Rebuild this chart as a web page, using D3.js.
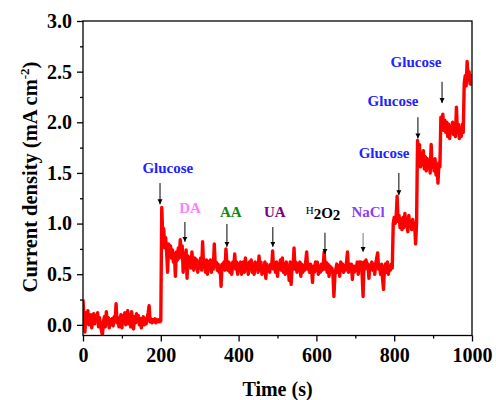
<!DOCTYPE html>
<html><head><meta charset="utf-8">
<script src="https://cdn.jsdelivr.net/npm/d3@7/dist/d3.min.js"></script>
<style>
body{margin:0;background:#fff}
svg text{font-family:"Liberation Serif","Times New Roman",serif;font-weight:bold}
</style>
</head><body><svg id="c" width="496" height="400"></svg>
<script>
// ---- data, one sample every 2.5 s from t = 0 s ----
const sampleInterval = 2.5;
const current = [0.25,
0.05,-0.07,0.12,0.02, 0.14,0.00,0.08,0.10, -0.03,0.06,0.11,0.01, 0.09,0.04,0.12,-0.02, 0.07,0.00,-0.06,-0.10,
0.03,0.08,-0.02,0.13, 0.02,0.07,-0.03,0.05, 0.00,0.06,-0.01,0.08, 0.03,0.21,0.02,0.07, -0.02,0.05,0.10,-0.03,
0.09,0.02,0.12,0.00, 0.08,0.14,0.01,0.10, -0.02,0.13,0.04,-0.04, 0.08,0.02,0.11,0.03, 0.09,0.00,0.06,-0.03,
0.05,0.08,0.00,0.06, 0.01,0.07,0.12,0.19, 0.03,0.06,0.02,0.05, 0.03,0.06,0.02,0.05, 0.03,0.05,0.03,0.04,
1.16,0.88,0.95,0.76, 0.86,0.72,0.52,0.80, 0.70,0.78,0.66,0.74, 0.62,0.70,0.48,0.72, 0.64,0.76,0.66,0.84,
0.70,0.78,0.52,0.70, 0.62,0.74,0.46,0.68, 0.58,0.66,0.56,0.72, 0.60,0.54,0.66,0.58, 0.64,0.52,0.62,0.56,
0.66,0.54,0.82,0.58, 0.62,0.52,0.64,0.50, 0.62,0.56,0.64,0.52, 0.60,0.55,0.80,0.58, 0.62,0.54,0.60,0.52,
0.58,0.38,0.60,0.55, 0.62,0.54,0.75,0.60, 0.54,0.62,0.52,0.60, 0.50,0.62,0.56,0.70, 0.55,0.62,0.50,0.60,
0.54,0.62,0.50,0.58, 0.62,0.52,0.66,0.56, 0.60,0.50,0.62,0.55, 0.64,0.52,0.60,0.50, 0.62,0.56,0.60,0.52,
0.68,0.54,0.62,0.50, 0.58,0.52,0.62,0.46, 0.60,0.54,0.58,0.52, 0.60,0.56,0.73,0.55, 0.60,0.52,0.62,0.48,
0.60,0.55,0.64,0.54, 0.66,0.52,0.60,0.50, 0.62,0.55,0.58,0.44, 0.62,0.40,0.58,0.56, 0.76,0.55,0.62,0.52,
0.60,0.54,0.62,0.48, 0.60,0.52,0.58,0.54, 0.62,0.72,0.55,0.60, 0.52,0.60,0.56,0.42, 0.58,0.52,0.62,0.54,
0.62,0.50,0.58,0.52, 0.60,0.54,0.58,0.72, 0.55,0.62,0.52,0.60, 0.48,0.58,0.52,0.56, 0.50,0.28,0.48,0.55,
0.60,0.52,0.58,0.48, 0.62,0.54,0.60,0.52, 0.58,0.54,0.62,0.72, 0.52,0.60,0.54,0.60, 0.45,0.58,0.52,0.58,
0.54,0.62,0.50,0.62, 0.58,0.62,0.50,0.28, 0.62,0.55,0.64,0.58, 0.60,0.46,0.58,0.56, 0.62,0.54,0.60,0.50,
0.60,0.66,0.71,0.55, 0.58,0.50,0.60,0.46, 0.35,0.56,0.60,0.52, 0.62,0.50,0.58,0.54, 0.60,0.56,1.00,1.06,
1.00,1.06,1.27,1.02, 1.08,0.96,1.04,0.94, 1.06,0.96,1.10,0.98, 1.04,0.92,1.08,0.98, 1.02,0.94,1.04,0.98,
1.00,0.80,1.00,1.82, 1.70,1.78,1.56,1.68, 1.58,1.72,1.54,1.66, 1.52,1.64,1.55,1.62, 1.50,1.78,1.56,1.62,
1.52,1.64,1.48,1.58, 1.40,1.60,1.56,2.05, 1.96,2.08,1.92,2.02, 1.90,2.00,1.86,1.98, 1.84,1.96,1.90,2.00,
1.88,1.96,1.86,2.15, 1.90,1.98,1.84,1.94, 1.86,1.98,1.90,2.38, 2.46,2.36,2.60,2.42, 2.50,2.38,2.46,2.36];
const time = current.map((d,i)=>i*sampleInterval);
const xTicks = [0,200,400,600,800,1000];
const yTicks = [0.0,0.5,1.0,1.5,2.0,2.5,3.0];
const xMinor = [100,300,500,700,900];
const yMinor = [0.25,0.75,1.25,1.75,2.25,2.75];
const labels = ["Glucose","DA","AA","UA","H2O2","NaCl","Glucose","Glucose","Glucose"];
const labelColors = ["#2222ff","#ff80ff","#108a10","#800080","#000000","#8a3cff","#2222ff","#2222ff","#2222ff"];
const labelT = [218,275,380,493,617,733,774,797,856];
const labelV = [1.50,1.105,1.065,1.065,1.065,1.065,1.648,2.16,2.546];
const arrowT = [198,262,370,488,622,720,812,861,923];
const arrowTop = [1.40,1.016,0.996,0.966,0.91,0.907,1.50,2.05,2.40];
const arrowBot = [1.19,0.82,0.77,0.77,0.70,0.72,1.28,1.84,2.19];

// ---- chart ----
const svg = d3.select("#c");
const x = d3.scaleLinear().domain([0,1000]).range([83,472]);
const y = d3.scaleLinear().domain([-0.105,3.0]).range([335.5,21]);

const defs = svg.append("defs");
defs.append("clipPath").attr("id","clip")
  .append("rect").attr("x",83).attr("y",21).attr("width",389).attr("height",314.5);
const mk = defs.append("marker").attr("id","ah")
  .attr("viewBox","0 0 10 10").attr("refX",10).attr("refY",5)
  .attr("markerWidth",5).attr("markerHeight",6).attr("markerUnits","userSpaceOnUse")
  .attr("orient","auto");
mk.append("path").attr("d","M0,0L10,5L0,10Z").attr("fill","#000");

const line = d3.line().x((d,i)=>x(time[i])).y(d=>y(d));
svg.append("path").datum(current).attr("clip-path","url(#clip)")
  .attr("d",line).attr("fill","none").attr("stroke","#ff0000")
  .attr("stroke-width",3.4).attr("stroke-linejoin","round");

// axes
const fs = 20;
const gx = svg.append("g").attr("transform","translate(0,335.5)")
  .call(d3.axisBottom(x).tickValues(xTicks).tickSize(6).tickPadding(6).tickSizeOuter(0).tickFormat(d3.format("d")));
const gxm = svg.append("g").attr("transform","translate(0,335.5)")
  .call(d3.axisBottom(x).tickValues(xMinor).tickSize(3).tickFormat(""));
const gy = svg.append("g").attr("transform","translate(83,0)")
  .call(d3.axisLeft(y).tickValues(yTicks).tickSize(6).tickPadding(5).tickSizeOuter(0).tickFormat(d3.format(".1f")));
const gym = svg.append("g").attr("transform","translate(83,0)")
  .call(d3.axisLeft(y).tickValues(yMinor).tickSize(3).tickFormat(""));
[gx,gxm,gy,gym].forEach(g=>{
  g.selectAll("path").remove();
  g.selectAll("line").attr("stroke","#000").attr("stroke-width",1.3);
  g.selectAll("text").attr("fill","#000").style("font-size",fs+"px")
   .style("font-family","'Liberation Serif',serif").style("font-weight","bold");
});
svg.append("rect").attr("x",83).attr("y",21).attr("width",389).attr("height",314.5)
  .attr("fill","none").attr("stroke","#000").attr("stroke-width",1.3);

// titles
svg.append("text").attr("x",x(500)).attr("y",396).attr("text-anchor","middle")
  .style("font-size","20px").text("Time (s)");
const yt = svg.append("text").attr("transform","translate(37,177) rotate(-90)")
  .attr("text-anchor","middle").style("font-size","20.5px");
yt.append("tspan").text("Current density (mA cm");
yt.append("tspan").attr("dy",-8).style("font-size","13px").text("-2");
yt.append("tspan").attr("dy",8).text(")");

// annotations
labels.forEach((lab,i)=>{
  const t = svg.append("text").attr("x",x(labelT[i])).attr("y",y(labelV[i]))
    .attr("text-anchor","middle").attr("fill",labelColors[i]).style("font-size","15px");
  if(lab==="H2O2"){
    t.append("tspan").style("font-size","11px").style("font-weight","normal").attr("dy",-3).text("H");
    t.append("tspan").style("font-size","15px").attr("dy",5).text("2");
    t.append("tspan").style("font-size","15px").attr("dy",-1).text("O");
    t.append("tspan").style("font-size","15px").attr("dy",2).text("2");
  } else t.text(lab);
  svg.append("line").attr("x1",x(arrowT[i])).attr("x2",x(arrowT[i]))
    .attr("y1",y(arrowTop[i])).attr("y2",y(arrowBot[i]))
    .attr("stroke",i===5?"#777":"#000").attr("stroke-width",1).attr("marker-end","url(#ah)");
});
</script>
</body></html>
